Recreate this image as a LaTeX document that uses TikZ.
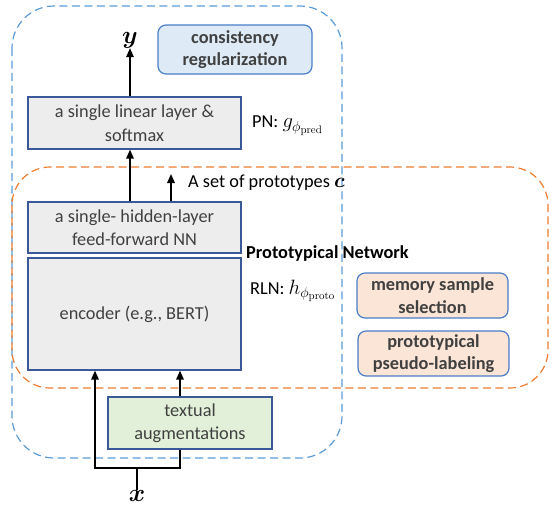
\documentclass[tikz,border=0pt]{standalone}
\usepackage[no-math]{fontspec}
\usepackage{bm}
\setmainfont{Carlito}
\usetikzlibrary{arrows.meta}
\definecolor{bxborder}{HTML}{3B5998}
\definecolor{grayfill}{HTML}{EDEDED}
\definecolor{bluefill}{HTML}{DEEBF7}
\definecolor{blueedge}{HTML}{4A7EC8}
\definecolor{peach}{HTML}{FBE5D6}
\definecolor{greenfill}{HTML}{E2F0D9}
\definecolor{bluedash}{HTML}{5B9BD5}
\definecolor{orangedash}{HTML}{ED7D31}
\definecolor{txtgray}{HTML}{404040}
\newcommand{\mathbig}[1]{{\fontsize{22}{22}\selectfont$#1$}}
\tikzset{
  layerbox/.style={draw=bxborder, line width=1.2pt, fill=grayfill, text=txtgray,
    align=center, inner sep=0pt, font=\fontsize{18.3}{23.5}\selectfont},
  taskbox/.style={draw=blueedge, line width=1.2pt, rounded corners=8pt, text=txtgray,
    align=center, inner sep=0pt, font=\fontsize{18.3}{22.5}\selectfont\bfseries},
  lbl/.style={inner sep=0pt, font=\fontsize{18.3}{20}\selectfont},
  arr/.style={line width=1.6pt, -{Triangle[length=9pt,width=7.5pt]}},
  conn/.style={line width=1.6pt},
  dashblue/.style={draw=bluedash, line width=1.2pt, dash pattern=on 8pt off 4.5pt, rounded corners=42pt},
  dashorange/.style={draw=orangedash, line width=1.2pt, dash pattern=on 8pt off 4.5pt, rounded corners=38pt},
}
\begin{document}
\begin{tikzpicture}[x=1pt,y=-1pt]
\useasboundingbox (0,0) rectangle (553,515);
% dashed regions
\draw[dashblue] (12,6) rectangle (342,458);
\draw[dashorange] (12,167) rectangle (548,388);
% layer boxes
\node[layerbox, minimum width=213pt, minimum height=52pt] (lin) at (134.5,123) {a single linear layer \&\\softmax};
\node[layerbox, minimum width=213pt, minimum height=51pt] (ff) at (134.5,227.5) {a single- hidden-layer\\feed-forward NN};
\node[layerbox, minimum width=213pt, minimum height=112pt] (enc) at (134.5,314) {encoder (e.g., BERT)};
\node[layerbox, fill=greenfill, minimum width=164pt, minimum height=52pt] (aug) at (190,423) {textual\\augmentations};
% task boxes
\node[taskbox, fill=bluefill, minimum width=154pt, minimum height=49pt] (cons) at (235,49.5) {consistency\\regularization};
\node[taskbox, fill=peach, minimum width=151pt, minimum height=45pt] (mem) at (432.5,295.5) {memory sample\\selection};
\node[taskbox, fill=peach, minimum width=151pt, minimum height=45pt] (pseudo) at (433.5,353.5) {prototypical\\pseudo-labeling};
% labels
\node[inner sep=0pt, font=\fontsize{26}{26}\selectfont] (ylab) at (130,40) {$\bm{y}$};
\node[inner sep=0pt, font=\fontsize{26}{26}\selectfont] (xlab) at (137,496) {$\bm{x}$};
\node[lbl, anchor=west] (pn) at (252,126) {PN: \mathbig{g_{\phi_{\mathrm{pred}}}}};
\node[lbl, anchor=west] (rln) at (250,291) {RLN: \mathbig{h_{\phi_{\mathrm{proto}}}}};
\node[lbl, anchor=west, font=\fontsize{18.3}{20}\selectfont\bfseries] (protonet) at (246,254) {Prototypical Network};
\node[lbl, anchor=west] (protos) at (188,183) {A set of prototypes \mathbig{\bm{c}}};
% coordinates
\coordinate (ma) at (130,0);
\coordinate (pa) at (171,0);
\coordinate (pt) at (171,174);
\coordinate (ra) at (180,0);
\coordinate (xl) at (95,468);
\coordinate (xr) at (180,468);
\coordinate (xj) at (137,468);
% connectors
\draw[arr] (lin.north -| ma) -- (ylab.south -| ma);
\draw[arr] (ff.north -| ma) -- (lin.south -| ma);
\draw[arr] (ff.north -| pa) -- (pt);
\draw[arr] (aug.north -| ra) -- (enc.south -| ra);
\draw[arr] (aug.south -| ra) -- (xr) -- (xl) -- (enc.south -| xl);
\draw[conn] (xj) -- (xlab.north);
\end{tikzpicture}
\end{document}
